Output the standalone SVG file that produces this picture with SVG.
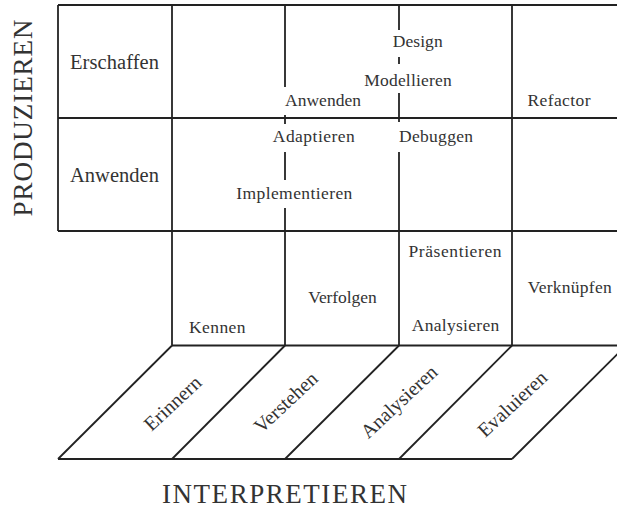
<svg xmlns="http://www.w3.org/2000/svg" width="617" height="509" viewBox="0 0 617 509">
<style>
.ln{stroke:#222;stroke-width:1.8;fill:none;stroke-linecap:butt}
.t{font-family:"Liberation Serif","Times New Roman",serif;fill:#333;font-size:17.5px;text-anchor:middle}
.tl{font-size:20.5px}
.tr{font-size:20px}
.ax{font-size:27px}
</style>
<rect width="617" height="509" fill="#fff"/>
<g id="grid">
<line class="ln" x1="58" y1="5" x2="617" y2="5"/>
<line class="ln" x1="58" y1="118" x2="617" y2="118"/>
<line class="ln" x1="58" y1="231" x2="617" y2="231"/>
<line class="ln" x1="172" y1="345.5" x2="617" y2="345.5"/>
<line class="ln" x1="58" y1="459" x2="512" y2="459"/>
<line class="ln" x1="58" y1="5" x2="58" y2="231"/>
<line class="ln" x1="172" y1="5" x2="172" y2="345.5"/>
<line class="ln" x1="512" y1="5" x2="512" y2="345.5"/>
<line class="ln" x1="285" y1="5" x2="285" y2="87"/>
<line class="ln" x1="285" y1="115" x2="285" y2="124"/>
<line class="ln" x1="285" y1="152" x2="285" y2="180"/>
<line class="ln" x1="285" y1="208" x2="285" y2="345.5"/>
<line class="ln" x1="399" y1="5" x2="399" y2="30"/>
<line class="ln" x1="399" y1="57" x2="399" y2="64"/>
<line class="ln" x1="399" y1="93" x2="399" y2="122"/>
<line class="ln" x1="399" y1="152" x2="399" y2="345.5"/>
<line class="ln" x1="172" y1="345.5" x2="58" y2="459"/>
<line class="ln" x1="285" y1="345.5" x2="172" y2="459"/>
<line class="ln" x1="399" y1="345.5" x2="285" y2="459"/>
<line class="ln" x1="512" y1="345.5" x2="399" y2="459"/>
<line class="ln" x1="626" y1="345.5" x2="512" y2="459"/>
</g>
<g id="axis-labels">
<text class="t ax" transform="translate(32,118) rotate(-90)" textLength="197">PRODUZIEREN</text>
<text class="t ax" x="284.5" y="503" textLength="245">INTERPRETIEREN</text>
</g>
<g id="row-labels">
<text class="t tl" x="114.5" y="69" textLength="89">Erschaffen</text>
<text class="t tl" x="114.5" y="182" textLength="89">Anwenden</text>
</g>
<g id="cell-labels">
<text class="t" x="323" y="106" textLength="76">Anwenden</text>
<text class="t" x="313.8" y="142" textLength="82">Adaptieren</text>
<text class="t" x="294.3" y="199" textLength="116">Implementieren</text>
<text class="t" x="417.7" y="47" textLength="50">Design</text>
<text class="t" x="408" y="86" textLength="87.5">Modellieren</text>
<text class="t" x="436" y="142" textLength="74">Debuggen</text>
<text class="t" x="559" y="106" textLength="63">Refactor</text>
<text class="t" x="217.3" y="332.5" textLength="56.5">Kennen</text>
<text class="t" x="342.5" y="302.5" textLength="68.5">Verfolgen</text>
<text class="t" x="455" y="256.5" textLength="93">Präsentieren</text>
<text class="t" x="455.5" y="330.5" textLength="87.5">Analysieren</text>
<text class="t" x="569.7" y="292.5" textLength="84">Verknüpfen</text>
</g>
<g id="level-labels">
<text class="t tr" transform="translate(172.7,403.3) rotate(-43)" dy="0.33em">Erinnern</text>
<text class="t tr" transform="translate(285.7,402.3) rotate(-43)" dy="0.33em">Verstehen</text>
<text class="t tr" transform="translate(399,401.7) rotate(-43)" dy="0.33em">Analysieren</text>
<text class="t tr" transform="translate(512.3,404) rotate(-43)" dy="0.33em">Evaluieren</text>
</g>
</svg>
